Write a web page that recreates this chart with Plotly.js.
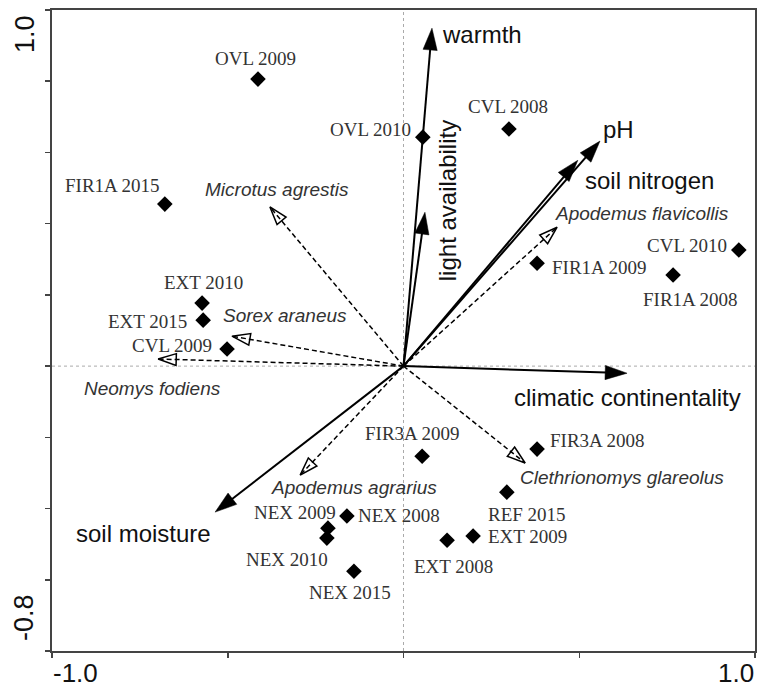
<!DOCTYPE html>
<html>
<head>
<meta charset="utf-8">
<script src="https://cdn.plot.ly/plotly-3.0.1.min.js"></script>
<style>html,body{margin:0;padding:0;background:#fff;}#chart{width:762px;height:690px;}</style>
</head>
<body>
<div id="chart"></div>
<script>
// ---- data ----
const siteNames = ["OVL 2009","OVL 2010","CVL 2008","FIR1A 2015","CVL 2010","FIR1A 2009","FIR1A 2008",
  "EXT 2010","EXT 2015","CVL 2009","FIR3A 2009","FIR3A 2008","REF 2015","EXT 2009","EXT 2008",
  "NEX 2008","NEX 2009","NEX 2010","NEX 2015"];
const siteX = [-0.414, 0.055, 0.300, -0.679, 0.954, 0.380, 0.767,
  -0.573, -0.570, -0.502, 0.053, 0.380, 0.294, 0.198, 0.124,
  -0.161, -0.215, -0.218, -0.141];
const siteY = [0.806, 0.643, 0.666, 0.455, 0.326, 0.289, 0.256,
  0.177, 0.129, 0.048, -0.253, -0.233, -0.354, -0.477, -0.489,
  -0.421, -0.455, -0.483, -0.576];

const envNames = ["warmth","light availability","pH","soil nitrogen","climatic continentality","soil moisture"];
const envX = [0.081, 0.061, 0.559, 0.496, 0.636, -0.536];
const envY = [0.949, 0.432, 0.632, 0.578, -0.020, -0.410];

const spNames = ["Microtus agrestis","Sorex araneus","Neomys fodiens","Apodemus flavicollis","Apodemus agrarius","Clethrionomys glareolus"];
const spX = [-0.380, -0.488, -0.698, 0.437, -0.294, 0.346];
const spY = [0.447, 0.084, 0.020, 0.390, -0.306, -0.272];

const xTickVals = [-1, -0.5, 0, 0.5, 1];
const yTickVals = [-0.8, -0.6, -0.4, -0.2, 0, 0.2, 0.4, 0.6, 0.8, 1.0];
const xEndLabels = ["-1.0", "1.0"];
const yEndLabels = ["-0.8", "1.0"];

// ---- label placement (pixel offsets from the mark: [dx right, dy down]) ----
const siteLabelOffset = {
  "OVL 2009":[-2,-21], "OVL 2010":[-52,-8], "CVL 2008":[-1,-22], "FIR1A 2015":[-52,-19],
  "CVL 2010":[-52,-5], "FIR1A 2009":[62,4], "FIR1A 2008":[17,25], "EXT 2010":[1,-21],
  "EXT 2015":[-56,1], "CVL 2009":[-55,-4], "FIR3A 2009":[-10,-23], "FIR3A 2008":[60,-9],
  "REF 2015":[20,22], "EXT 2009":[54,1], "EXT 2008":[6,26], "NEX 2008":[52,-1],
  "NEX 2009":[-33,-16], "NEX 2010":[-40,21], "NEX 2015":[-4,21]
};
const envLabelOffset = {
  "warmth":[50,6,0], "light availability":[22,-12,-90], "pH":[19,-12,0],
  "soil nitrogen":[72,20,0], "climatic continentality":[0,24,0], "soil moisture":[-72,21,0]
};
const spLabelOffset = {
  "Microtus agrestis":[7,-17], "Sorex araneus":[53,-21], "Neomys fodiens":[-6,30],
  "Apodemus flavicollis":[85,-14], "Apodemus agrarius":[54,12], "Clethrionomys glareolus":[97,15]
};

const SANS = "Liberation Sans, Arial, sans-serif";
const SERIF = "Liberation Serif, Times New Roman, serif";

const traces = [];
// environmental arrows (solid, filled heads)
envNames.forEach((n, i) => {
  traces.push({
    type: "scatter", mode: "lines+markers", opacity: 1,
    x: [0, envX[i]], y: [0, envY[i]],
    line: {color: "#000000", width: 2},
    marker: {symbol: "arrow", size: [0, 23], angleref: "previous", color: "#000000", opacity: 1,
      line: {color: "#000000", width: 0.5}},
    hoverinfo: "skip", showlegend: false
  });
});
// species arrows (dashed, open heads)
spNames.forEach((n, i) => {
  traces.push({
    type: "scatter", mode: "lines+markers", opacity: 1,
    x: [0, spX[i]], y: [0, spY[i]],
    line: {color: "#000000", width: 1.5, dash: "5px,3px"},
    marker: {symbol: "arrow-open", size: [0, 19], angleref: "previous", color: "#000000", opacity: 1,
      line: {color: "#000000", width: 1.5}},
    hoverinfo: "skip", showlegend: false
  });
});
// sites
traces.push({
  type: "scatter", mode: "markers",
  x: siteX, y: siteY,
  marker: {symbol: "diamond", size: 12, color: "#000000"},
  hoverinfo: "skip", showlegend: false
});

const annotations = [];
siteNames.forEach((n, i) => {
  const o = siteLabelOffset[n];
  annotations.push({x: siteX[i], y: siteY[i], xref: "x", yref: "y", text: n, showarrow: false,
    xanchor: "center", yanchor: "middle", xshift: o[0], yshift: -o[1],
    font: {family: SERIF, size: 19, color: "#333"}});
});
envNames.forEach((n, i) => {
  const o = envLabelOffset[n];
  annotations.push({x: envX[i], y: envY[i], xref: "x", yref: "y", text: n, showarrow: false,
    xanchor: "center", yanchor: "middle", xshift: o[0], yshift: -o[1], textangle: o[2],
    font: {family: SANS, size: 24, color: "#111"}});
});
spNames.forEach((n, i) => {
  const o = spLabelOffset[n];
  annotations.push({x: spX[i], y: spY[i], xref: "x", yref: "y", text: "<i>" + n + "</i>", showarrow: false,
    xanchor: "center", yanchor: "middle", xshift: o[0], yshift: -o[1],
    font: {family: SANS, size: 19, color: "#333"}});
});
// axis end labels
annotations.push({x: xTickVals[0], y: 0, xref: "x", yref: "paper", text: xEndLabels[0], showarrow: false,
  xanchor: "left", yanchor: "middle", yshift: -22, borderpad: 0, font: {family: SANS, size: 26, color: "#111"}});
annotations.push({x: xTickVals[xTickVals.length-1], y: 0, xref: "x", yref: "paper", text: xEndLabels[1], showarrow: false,
  xanchor: "right", yanchor: "middle", yshift: -22, borderpad: 0, font: {family: SANS, size: 26, color: "#111"}});
annotations.push({x: 0, y: yTickVals[0], xref: "paper", yref: "y", text: yEndLabels[0], showarrow: false, textangle: -90,
  xanchor: "center", yanchor: "middle", xshift: -28, yshift: 33, font: {family: SANS, size: 27, color: "#111"}});
annotations.push({x: 0, y: yTickVals[yTickVals.length-1], xref: "paper", yref: "y", text: yEndLabels[1], showarrow: false, textangle: -90,
  xanchor: "center", yanchor: "middle", xshift: -27, yshift: -24, font: {family: SANS, size: 27, color: "#111"}});

const layout = {
  width: 762, height: 690,
  margin: {l: 52, r: 7, t: 10, b: 39},
  paper_bgcolor: "#fff", plot_bgcolor: "#fff",
  xaxis: {range: [-1, 1], showgrid: false, zeroline: false, showline: true, mirror: true,
    linecolor: "#444", linewidth: 2, ticks: "outside", ticklen: 5, tickwidth: 1.5, tickcolor: "#444",
    tickvals: xTickVals, showticklabels: false, fixedrange: true},
  yaxis: {range: [-0.8, 1.0], showgrid: false, zeroline: false, showline: true, mirror: true,
    linecolor: "#444", linewidth: 2, ticks: "outside", ticklen: 5, tickwidth: 1.5, tickcolor: "#444",
    tickvals: yTickVals, showticklabels: false, fixedrange: true},
  shapes: [
    {type: "line", xref: "x", yref: "paper", x0: 0, x1: 0, y0: 0, y1: 1, layer: "below",
      line: {color: "#aaa", width: 1, dash: "dot"}},
    {type: "line", xref: "paper", yref: "y", x0: 0, x1: 1, y0: 0, y1: 0, layer: "below",
      line: {color: "#aaa", width: 1, dash: "dot"}}
  ],
  annotations: annotations,
  showlegend: false
};

Plotly.newPlot("chart", traces, layout, {staticPlot: true, displayModeBar: false});
</script>
</body>
</html>
